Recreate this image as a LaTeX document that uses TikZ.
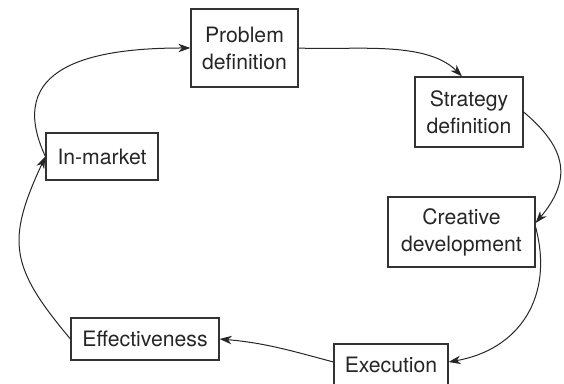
\documentclass[tikz,border=0pt]{standalone}
\usepackage{fontspec}
\setmainfont{TeX Gyre Heros}
\usetikzlibrary{arrows.meta}
\begin{document}
\begin{tikzpicture}[
  x=0.5pt, y=0.5pt,
  stage/.style={draw=black!80, line width=0.6pt, fill=white, inner sep=0pt, align=center,
    text=black!85, font=\fontsize{10.6}{13.5}\selectfont, minimum width=#1},
  flow/.style={-{Stealth[length=6pt, width=4.2pt, inset=1.8pt]}, line width=0.5pt, draw=black!85}
]
\useasboundingbox (0,0) rectangle (564,384);

% === Stages (clockwise from the top) ===
\node[stage=53.5pt, minimum height=39pt]   (prob)  at (244.5,336) {Problem\\definition};
\node[stage=54pt,   minimum height=35pt]   (strat) at (469,272)   {Strategy\\definition};
\node[stage=73.5pt, minimum height=35pt]   (creat) at (461.5,152) {Creative\\development};
\node[stage=57pt,   minimum height=21pt]   (exec)  at (391,19)    {Execution};
\node[stage=74pt,   minimum height=21pt]   (eff)   at (145,45)    {Effectiveness};
\node[stage=56pt,   minimum height=23.5pt] (inmk)  at (102,227.5) {In-market};

% === Cycle ===
\draw[flow] (inmk.west) to[out=115, in=180, looseness=1.4] (prob.west);
\draw[flow] (prob.east) to[out=-3, in=135, looseness=0.8] ([xshift=-3.5pt]strat.north);
\draw[flow] (strat.east) to[out=-40, in=50, looseness=1.3] ([yshift=4.5pt]creat.east);
\draw[flow] ([yshift=2.5pt]creat.east) to[out=-75, in=10, looseness=1.15] ([yshift=1.5pt]exec.east);
\draw[flow] ([yshift=1.5pt]exec.west) to[out=165, in=-5] (eff.east);
\draw[flow] (eff.west) to[out=130, in=-115, looseness=1.3] (inmk.west);

\end{tikzpicture}
\end{document}
